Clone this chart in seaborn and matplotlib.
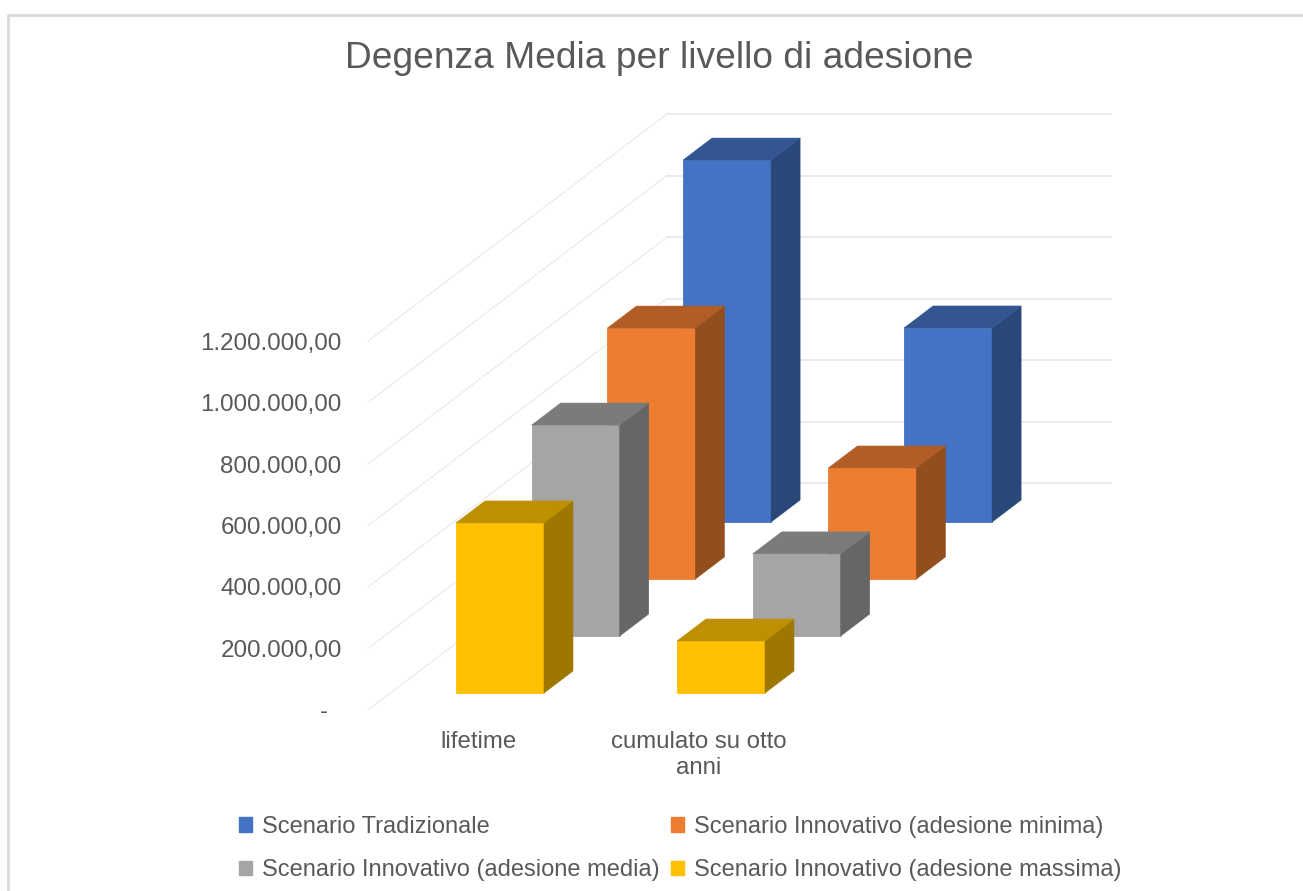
import matplotlib
matplotlib.use("Agg")
import matplotlib.pyplot as plt
from matplotlib.colors import to_rgb
from matplotlib.lines import Line2D
from matplotlib.patches import Patch, Polygon
import seaborn as sns

# Chart data
GROUPS = ["lifetime", "cumulato su otto\nanni"]
TRADIZIONALE = [1177000, 631000]
MINIMA = [816000, 361000]
MEDIA = [686000, 267000]
MASSIMA = [553000, 169000]
Y_TICKS = [0, 200000, 400000, 600000, 800000, 1000000, 1200000]

LABEL_TRADIZIONALE = "Scenario Tradizionale"
LABEL_MINIMA = "Scenario Innovativo (adesione minima)"
LABEL_MEDIA = "Scenario Innovativo (adesione media)"
LABEL_MASSIMA = "Scenario Innovativo (adesione massima)"

BLUE = "#4472C4"
ORANGE = "#ED7D31"
GRAY = "#A5A5A5"
YELLOW = "#FFC000"
TEXT_COLOR = "#595959"

# Layout of the fake 3D view, in reference pixels
W, H = 1303, 891
VALUE_PER_PX = 200000 / 61.5
GROUP_PX = 221
AX_LEFT, AX_RIGHT, AX_TOP, AX_BOTTOM = 368, 1111, 114, 710
FIRST_BAR_PX = 500
BAR_PX = 88
SERIES_DX, SERIES_DY = 75.7, 57
SIDE_DX, SIDE_DY = 29, 22
WALL_DX, WALL_DY = 299, 227
FLOOR_PX = 17


def shade(color, factor):
    return tuple(c * factor for c in to_rgb(color))


def money(v):
    if v == 0:
        return "-  "
    return f"{v:,.2f}".replace(",", "#").replace(".", ",").replace("#", ".")


sns.set_theme(style="white")
plt.rcParams["font.family"] = ["Liberation Sans", "DejaVu Sans"]

fig = plt.figure(figsize=(W / 100, H / 100), dpi=100)
ax = fig.add_axes([AX_LEFT / W, 1 - AX_BOTTOM / H, (AX_RIGHT - AX_LEFT) / W, (AX_BOTTOM - AX_TOP) / H])

x_left = (AX_LEFT - FIRST_BAR_PX) / GROUP_PX
x_right = (AX_RIGHT - FIRST_BAR_PX) / GROUP_PX
y_top = (AX_BOTTOM - AX_TOP) * VALUE_PER_PX

# Back to front, so nearer bars cover the ones behind
series = [
    (TRADIZIONALE, BLUE, 3),
    (MINIMA, ORANGE, 2),
    (MEDIA, GRAY, 1),
    (MASSIMA, YELLOW, 0),
]

side_dx = SIDE_DX / GROUP_PX
side_dy = SIDE_DY * VALUE_PER_PX

for values, color, depth in series:
    xs = [i + depth * SERIES_DX / GROUP_PX for i in range(len(GROUPS))]
    base = (FLOOR_PX + depth * SERIES_DY) * VALUE_PER_PX
    sns.barplot(x=xs, y=values, ax=ax, color=color, saturation=1, native_scale=True,
                orient="x", width=BAR_PX / GROUP_PX, bottom=base, linewidth=0.6, edgecolor=color,
                errorbar=None)
    for bar in ax.containers[-1]:
        x0, x1 = bar.get_x(), bar.get_x() + bar.get_width()
        y0, y1 = bar.get_y(), bar.get_y() + bar.get_height()
        side = shade(color, 0.62)
        top = shade(color, 0.745)
        ax.add_patch(Polygon([(x1, y0), (x1 + side_dx, y0 + side_dy), (x1 + side_dx, y1 + side_dy), (x1, y1)],
                             closed=True, facecolor=side, edgecolor=side, lw=0.4))
        ax.add_patch(Polygon([(x0, y1), (x0 + side_dx, y1 + side_dy), (x1 + side_dx, y1 + side_dy), (x1, y1)],
                             closed=True, facecolor=top, edgecolor=top, lw=0.4))

# Walls: gridlines go up the side wall and then across the back
wall_x = x_left + WALL_DX / GROUP_PX
wall_y = WALL_DY * VALUE_PER_PX
for v in Y_TICKS:
    ax.plot([x_left, wall_x], [v, v + wall_y], color="#EBEBEB", lw=0.9, zorder=0.5, clip_on=False)
    ax.plot([wall_x, x_right], [v + wall_y, v + wall_y], color="#E4E4E4", lw=1.1, zorder=0.5, clip_on=False)

ax.set_xlim(x_left, x_right)
ax.set_ylim(0, y_top)
ax.set_xticks([i - 22 / GROUP_PX for i in range(len(GROUPS))])
ax.set_xticklabels(GROUPS, fontsize=17.3, color=TEXT_COLOR, linespacing=1.25)
ax.set_yticks(Y_TICKS)
ax.set_yticklabels([money(v) for v in Y_TICKS], fontsize=17.4, color=TEXT_COLOR)
ax.tick_params(axis="x", length=0, pad=15)
ax.tick_params(axis="y", length=0, pad=19)
ax.set_xlabel("")
ax.set_ylabel("")
sns.despine(ax=ax, left=True, bottom=True)
ax.patch.set_visible(False)

fig.suptitle("Degenza Media per livello di adesione", x=659.5 / W, y=1 - 59 / H, va="center",
             fontsize=26.75, color=TEXT_COLOR)

# Legend fills column by column
handles = [Patch(color=BLUE, label=LABEL_TRADIZIONALE), Patch(color=GRAY, label=LABEL_MEDIA),
           Patch(color=ORANGE, label=LABEL_MINIMA), Patch(color=YELLOW, label=LABEL_MASSIMA)]
fig.legend(handles=handles, ncol=2, loc="upper left", bbox_to_anchor=(239 / W, 1 - 816 / H),
           frameon=False, fontsize=17, labelcolor=TEXT_COLOR, handlelength=0.56, handleheight=0.56,
           handletextpad=0.42, columnspacing=0.47, labelspacing=0.91, borderpad=0, borderaxespad=0)

# Chart frame, only the top and left edges are in the picture
fig.add_artist(Line2D([8 / W, 8 / W, 1], [0, 1 - 14.5 / H, 1 - 14.5 / H], color="#D9D9D9", lw=2))

fig.savefig("out.png", dpi=100, facecolor="white")
